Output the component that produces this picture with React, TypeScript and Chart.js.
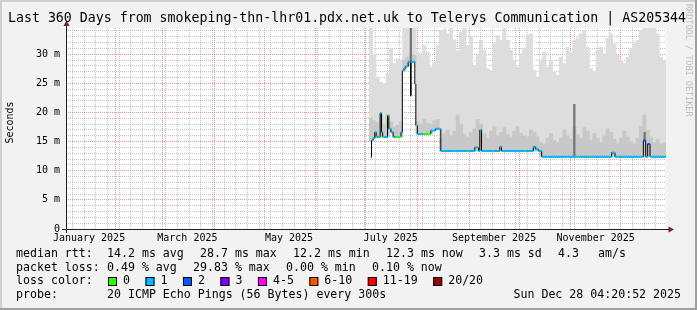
import React, { useEffect, useRef } from "react";
import { Chart, registerables } from "chart.js";

Chart.register(...registerables);

// ---------------- data ----------------
// median RTT change points: day offset from graph start, value in ms, loss colour class
const medianDays = [
  182.9, 183.3, 184.3, 185.3, 186.1, 186.8, 188.5, 189.3, 190.0, 190.8,
  192.9, 193.7, 195.0, 196.3, 198.0, 201.0, 201.8, 202.8, 203.8, 205.3,
  206.7, 207.1, 209.3, 209.9, 210.8, 214.0, 218.9, 221.7, 224.9, 233.0,
  233.6, 241.0, 241.6, 245.3, 246.9, 247.5, 248.3, 249.3, 256.0, 256.6,
  258.8, 259.4, 260.3, 261.3, 275.2, 275.8, 280.4, 281.8, 283.4, 285.4,
  307.2, 307.8, 315.2, 315.8, 327.4, 329.4, 346.4, 347.8, 349.0, 350.4,
  360.0,
];
const medianMs = [
  12.3, 15.2, 15.6, 16.6, 15.8, 15.8, 19.9, 16.6, 15.8, 15.8,
  19.5, 17.2, 16.6, 15.8, 15.8, 16.6, 27.2, 27.6, 27.9, 28.7,
  22.9, 28.7, 24.9, 17.8, 16.3, 16.3, 16.9, 17.2, 13.4, 13.4,
  13.4, 13.4, 13.4, 14.0, 14.0, 13.4, 17.0, 13.4, 13.4, 13.4,
  13.4, 13.4, 14.1, 13.4, 13.4, 13.4, 14.1, 13.7, 13.4, 12.4,
  12.4, 12.4, 12.4, 12.4, 13.1, 12.4, 15.2, 12.4, 14.6, 12.4,
  12.4,
];
const medianLoss = [
  1, 1, 1, 1, 0, 1, 1, 1, 0, 1,
  0, 1, 1, 1, 0, 1, 1, 1, 1, 1,
  3, 1, 1, 0, 1, 0, 1, 1, 1, 0,
  1, 0, 1, 1, 0, 1, 1, 1, 0, 1,
  5, 1, 1, 1, 0, 1, 1, 1, 1, 1,
  0, 1, 0, 1, 1, 1, 2, 1, 2, 1,
  1,
];

// smoke (ping spread) in 2-day bins
const smokeDays = [
  183, 185, 187, 189, 191, 193, 195, 197, 199, 201,
  203, 205, 207, 209, 211, 213, 215, 217, 219, 221,
  223, 225, 227, 229, 231, 233, 235, 237, 239, 241,
  243, 245, 247, 249, 251, 253, 255, 257, 259, 261,
  263, 265, 267, 269, 271, 273, 275, 277, 279, 281,
  283, 285, 287, 289, 291, 293, 295, 297, 299, 301,
  303, 305, 307, 309, 311, 313, 315, 317, 319, 321,
  323, 325, 327, 329, 331, 333, 335, 337, 339, 341,
  343, 345, 347, 349, 351, 353, 355, 357, 359,
];
const smokeLowMs = [
  15.0, 15.6, 15.8, 15.8, 15.8, 15.8, 16.6, 15.8, 15.8, 15.8,
  27.2, 27.9, 28.7, 28.7, 16.3, 16.3, 16.3, 16.3, 16.3, 16.9,
  17.2, 13.4, 13.4, 13.4, 13.4, 13.4, 13.4, 13.4, 13.4, 13.4,
  13.4, 13.4, 13.4, 13.4, 13.4, 13.4, 13.4, 13.4, 13.4, 13.4,
  13.4, 13.4, 13.4, 13.4, 13.4, 13.4, 13.4, 13.4, 13.4, 13.4,
  13.4, 12.4, 12.4, 12.4, 12.4, 12.4, 12.4, 12.4, 12.4, 12.4,
  12.4, 12.4, 12.4, 12.4, 12.4, 12.4, 12.4, 12.4, 12.4, 12.4,
  12.4, 12.4, 12.4, 12.4, 12.4, 12.4, 12.4, 12.4, 12.4, 12.4,
  12.4, 12.4, 12.4, 12.4, 12.4, 12.4, 12.4, 12.4, 12.4,
];
const smokeMidMs = [
  19.0, 18.6, 18.2, 19.5, 18.0, 19.6, 18.4, 17.6, 17.8, 18.4,
  29.0, 29.5, 30.0, 29.8, 18.4, 18.0, 18.8, 18.2, 18.0, 18.6,
  18.8, 15.6, 16.4, 17.0, 16.0, 16.8, 19.6, 18.0, 16.2, 15.8,
  16.6, 17.2, 18.8, 18.0, 16.4, 15.6, 16.8, 17.6, 16.0, 16.6,
  17.4, 16.2, 15.8, 16.8, 17.6, 16.4, 16.0, 15.8, 17.0, 16.6,
  15.8, 14.8, 14.6, 15.6, 16.4, 15.2, 14.8, 15.6, 17.0, 16.0,
  15.4, 17.6, 16.2, 15.6, 17.4, 16.8, 15.2, 16.4, 15.6, 14.8,
  16.0, 17.2, 16.6, 15.4, 14.8, 15.6, 16.8, 15.8, 15.0, 14.6,
  15.6, 17.6, 19.6, 17.0, 15.8, 14.8, 15.4, 14.6, 14.8,
];
const smokeTopMs = [
  34.5, 30.0, 26.1, 25.2, 25.0, 26.7, 31.0, 28.4, 29.2, 29.0,
  34.5, 34.5, 34.5, 34.5, 30.4, 30.1, 31.5, 30.4, 27.8, 28.7,
  31.5, 34.1, 34.3, 33.5, 34.5, 32.5, 30.5, 33.8, 34.5, 31.5,
  33.0, 28.1, 29.8, 32.4, 30.7, 27.5, 27.2, 31.8, 33.2, 32.4,
  34.4, 32.4, 30.7, 29.0, 27.8, 30.1, 31.0, 33.2, 33.5, 27.2,
  26.1, 29.0, 30.4, 27.8, 29.0, 27.0, 26.4, 29.5, 28.4, 31.2,
  30.4, 32.4, 32.7, 33.5, 34.1, 31.2, 27.5, 27.0, 30.7, 31.2,
  30.1, 32.7, 33.5, 31.8, 29.8, 29.0, 28.4, 29.5, 31.0, 31.8,
  32.4, 34.1, 34.5, 34.5, 34.5, 34.5, 33.5, 29.5, 29.0,
];

// narrow dark smoke spikes
const spikeDays = [206.9, 305.0, 347.2];
const spikeLowMs = [28.7, 12.4, 15.2];
const spikeHighMs = [34.5, 21.4, 16.6];

const lossColors = ["#26ff00", "#00b8ff", "#0059ff", "#7e00ff", "#ff00ff", "#ff5500", "#ff0000", "#a10000"];
const lossLabels = ["0", "1", "2", "3", "4-5", "6-10", "11-19", "20/20"];

const yMaxMs = 34.5;
const yLabelTicks = [0, 5, 10, 15, 20, 25, 30];
const yLabelTexts = ["0", "5 m", "10 m", "15 m", "20 m", "25 m", "30 m"];

const xLabelTexts = ["January 2025", "March 2025", "May 2025", "July 2025", "September 2025", "November 2025"];
const xLabelMonths = [0, 2, 4, 6, 8, 10];
const gridMonths = [1, 2, 3, 4, 5, 6, 7, 8, 9, 10, 11];

const titleText = "Last 360 Days from smokeping-thn-lhr01.pdx.net.uk to Telerys Communication | AS205344";
const medianRowTexts = ["median rtt:", "14.2 ms avg", "28.7 ms max", "12.2 ms min", "12.3 ms now", "3.3 ms sd", "4.3", "am/s"];
const lossRowTexts = ["packet loss:", "0.49 % avg", "29.83 % max", "0.00 % min", "0.10 % now"];
const probeRowTexts = ["probe:", "20 ICMP Echo Pings (56 Bytes) every 300s"];
const stampText = "Sun Dec 28 04:20:52 2025";
const watermarkText = "RRDTOOL / TOBI OETIKER";

// ---------------- layout / style ----------------
const FONT = '"DejaVu Sans Mono", monospace';
const medianRowX = [16, 107, 200, 293, 386, 479, 558, 598];
const lossRowX = [16, 107, 193, 286, 372];
const probeRowX = [16, 107];
const rowY = [254, 267.7, 281.4, 295];

const START_UTC = Date.UTC(2025, 0, 2, 4, 20, 52);
const DAY_MS = 86400000;
const dayOf = (y: number, m: number, d: number) => (Date.UTC(y, m, d) - START_UTC) / DAY_MS;

const monthGridDays = gridMonths.map((m) => dayOf(2025, m, 1));
const labelDays = xLabelMonths.map((m) => dayOf(2025, m, 16));
const weekDays: number[] = [];
for (let t = dayOf(2025, 0, 6); t < 360; t += 7) {
  if (!monthGridDays.some((md) => Math.abs(md - t) < 0.5)) weekDays.push(t);
}
const xTickType = new Map<number, string>();
weekDays.forEach((v) => xTickType.set(v, "week"));
monthGridDays.forEach((v) => xTickType.set(v, "month"));
const xLabelMap = new Map<number, string>();
labelDays.forEach((v, i) => {
  xTickType.set(v, "label");
  xLabelMap.set(v, xLabelTexts[i]);
});
const xTickValues = Array.from(xTickType.keys()).sort((a, b) => a - b);

const MINOR = "rgba(140,140,140,0.5)";
const MAJOR = "rgba(222,79,79,0.6)";

const rrdPlugin = {
  id: "rrdDecor",
  beforeDraw(chart: any) {
    const { ctx, chartArea: a, width, height } = chart;
    ctx.save();
    ctx.fillStyle = "#f2f2f2";
    ctx.fillRect(0, 0, width, height);
    ctx.fillStyle = "#cfcfcf";
    ctx.fillRect(0, 0, width, 2);
    ctx.fillRect(0, 0, 2, height);
    ctx.fillStyle = "#9e9e9e";
    ctx.fillRect(0, height - 2, width, 2);
    ctx.fillRect(width - 2, 0, 2, height);
    ctx.fillStyle = "#ffffff";
    ctx.fillRect(a.left, a.top, a.right - a.left, a.bottom - a.top);
    ctx.restore();
  },
  afterDraw(chart: any) {
    const { ctx, chartArea: a } = chart;
    ctx.save();
    // axes
    ctx.fillStyle = "#1f1f1f";
    ctx.fillRect(a.left - 4, a.bottom, a.right - a.left + 8, 1);
    ctx.fillRect(a.left, a.top - 4, 1, a.bottom - a.top + 8);
    ctx.fillStyle = "#801f1f";
    ctx.beginPath();
    ctx.moveTo(a.right + 2.5, a.bottom - 2.5);
    ctx.lineTo(a.right + 2.5, a.bottom + 3.5);
    ctx.lineTo(a.right + 8, a.bottom + 0.5);
    ctx.closePath();
    ctx.fill();
    ctx.beginPath();
    ctx.moveTo(a.left - 2.5, a.top - 2);
    ctx.lineTo(a.left + 3.5, a.top - 2);
    ctx.lineTo(a.left + 0.5, a.top - 7.5);
    ctx.closePath();
    ctx.fill();

    ctx.fillStyle = "#000";
    ctx.textBaseline = "middle";
    // title
    ctx.font = `13.25px ${FONT}`;
    ctx.textAlign = "left";
    ctx.fillText(titleText, 8, 19);
    // y title
    ctx.save();
    ctx.font = `10px ${FONT}`;
    ctx.translate(10.5, 122.5);
    ctx.rotate(-Math.PI / 2);
    ctx.textAlign = "center";
    ctx.fillText("Seconds", 0, 0);
    ctx.restore();
    // legend
    ctx.font = `11.6px ${FONT}`;
    ctx.textAlign = "left";
    medianRowTexts.forEach((t, i) => ctx.fillText(t, medianRowX[i], rowY[0]));
    lossRowTexts.forEach((t, i) => ctx.fillText(t, lossRowX[i], rowY[1]));
    ctx.fillText("loss color:", 16, rowY[2]);
    let x = 108;
    lossLabels.forEach((lbl, i) => {
      const by = Math.round(rowY[2] - 4.5);
      ctx.fillStyle = lossColors[i];
      ctx.fillRect(x, by, 9, 9);
      ctx.strokeStyle = "#000";
      ctx.lineWidth = 1;
      ctx.strokeRect(x + 0.5, by + 0.5, 8, 8);
      ctx.fillStyle = "#000";
      ctx.fillText(lbl, x + 15, rowY[2]);
      x += 15 + ctx.measureText(lbl).width + 15.5;
    });
    probeRowTexts.forEach((t, i) => ctx.fillText(t, probeRowX[i], rowY[3]));
    ctx.textAlign = "right";
    ctx.fillText(stampText, 681, rowY[3]);
    // watermark
    ctx.save();
    ctx.fillStyle = "#bdbdbd";
    ctx.font = `8.5px ${FONT}`;
    ctx.translate(688.5, 4);
    ctx.rotate(Math.PI / 2);
    ctx.textAlign = "left";
    ctx.fillText(watermarkText, 0, 0);
    ctx.restore();
    ctx.restore();
  },
};

export default function App() {
  const ref = useRef<HTMLCanvasElement>(null);
  useEffect(() => {
    document.body.style.margin = "0";
    const canvas = ref.current!;

    const coloured: any[] = [];
    const segLoss: number[] = [];
    for (let i = 0; i < medianDays.length - 1; i++) {
      coloured.push({ x: medianDays[i], y: medianMs[i] });
      coloured.push({ x: medianDays[i + 1], y: medianMs[i] });
      coloured.push({ x: medianDays[i + 1], y: null });
      segLoss.push(medianLoss[i], medianLoss[i], medianLoss[i]);
    }

    const chart = new Chart(canvas, {
      type: "bar",
      data: {
        datasets: [
          {
            type: "line",
            label: "loss",
            data: coloured,
            borderWidth: 2,
            borderColor: lossColors[1],
            pointRadius: 0,
            spanGaps: false,
            segment: { borderColor: (c: any) => lossColors[segLoss[c.p0DataIndex]] },
            order: 0,
          } as any,
          {
            type: "line",
            label: "median",
            data: medianDays.map((d, i) => ({ x: d, y: medianMs[i] })),
            stepped: true,
            borderColor: "#000000",
            borderWidth: 1,
            pointRadius: 0,
            order: 1,
          } as any,
          {
            type: "bar",
            label: "spikes",
            data: spikeDays.map((d, i) => ({ x: d, y: [spikeLowMs[i], spikeHighMs[i]] })),
            backgroundColor: "#707070",
            barThickness: 1.5,
            grouped: false,
            order: 2,
          } as any,
          {
            type: "bar",
            label: "smoke mid",
            data: smokeDays.map((d, i) => ({ x: d, y: [smokeLowMs[i], smokeMidMs[i]] })),
            backgroundColor: "#c8c8c8",
            barThickness: 3.4,
            grouped: false,
            order: 3,
          } as any,
          {
            type: "bar",
            label: "smoke",
            data: smokeDays.map((d, i) => ({ x: d, y: [smokeLowMs[i], smokeTopMs[i]] })),
            backgroundColor: "#dddddd",
            barThickness: 3.4,
            grouped: false,
            order: 4,
          } as any,
        ],
      },
      options: {
        responsive: false,
        animation: false,
        events: [],
        layout: { padding: { top: 28, right: 31, left: 0, bottom: 0 } },
        plugins: { legend: { display: false }, tooltip: { enabled: false }, title: { display: false } },
        scales: {
          x: {
            type: "linear",
            min: 0,
            max: 360,
            offset: false,
            z: 1,
            grid: {
              offset: false,
              drawTicks: false,
              lineWidth: 1,
              color: (c: any) => {
                const t = xTickType.get(c.tick?.value);
                return t === "month" ? MAJOR : t === "week" ? MINOR : "rgba(0,0,0,0)";
              },
            },
            border: { display: false, dash: [1, 1] },
            ticks: {
              autoSkip: false,
              maxRotation: 0,
              minRotation: 0,
              padding: 3,
              color: "#000",
              font: { family: FONT, size: 10 },
              callback: (v: any) => xLabelMap.get(v) ?? "",
            },
            afterBuildTicks: (s: any) => {
              s.ticks = xTickValues.map((v) => ({ value: v }));
            },
            afterFit: (s: any) => {
              s.height = 81;
            },
          },
          y: {
            type: "linear",
            min: 0,
            max: yMaxMs,
            z: 1,
            grid: {
              drawTicks: false,
              lineWidth: 1,
              color: (c: any) => (yLabelTicks.includes(c.tick?.value) ? MAJOR : MINOR),
            },
            border: { display: false, dash: [1, 1] },
            ticks: {
              autoSkip: false,
              padding: 6,
              color: "#000",
              font: { family: FONT, size: 10 },
              callback: (v: any) => {
                const k = yLabelTicks.indexOf(v);
                return k >= 0 ? yLabelTexts[k] : "";
              },
            },
            afterBuildTicks: (s: any) => {
              const t: any[] = [];
              for (let v = 0; v <= Math.floor(yMaxMs); v++) t.push({ value: v });
              s.ticks = t;
            },
            afterFit: (s: any) => {
              s.width = 66;
            },
          },
        },
      } as any,
      plugins: [rrdPlugin],
    });
    return () => chart.destroy();
  }, []);
  return (
    <div style={{ width: 697, height: 310 }}>
      <canvas ref={ref} width={697} height={310} style={{ display: "block" }} />
    </div>
  );
}
